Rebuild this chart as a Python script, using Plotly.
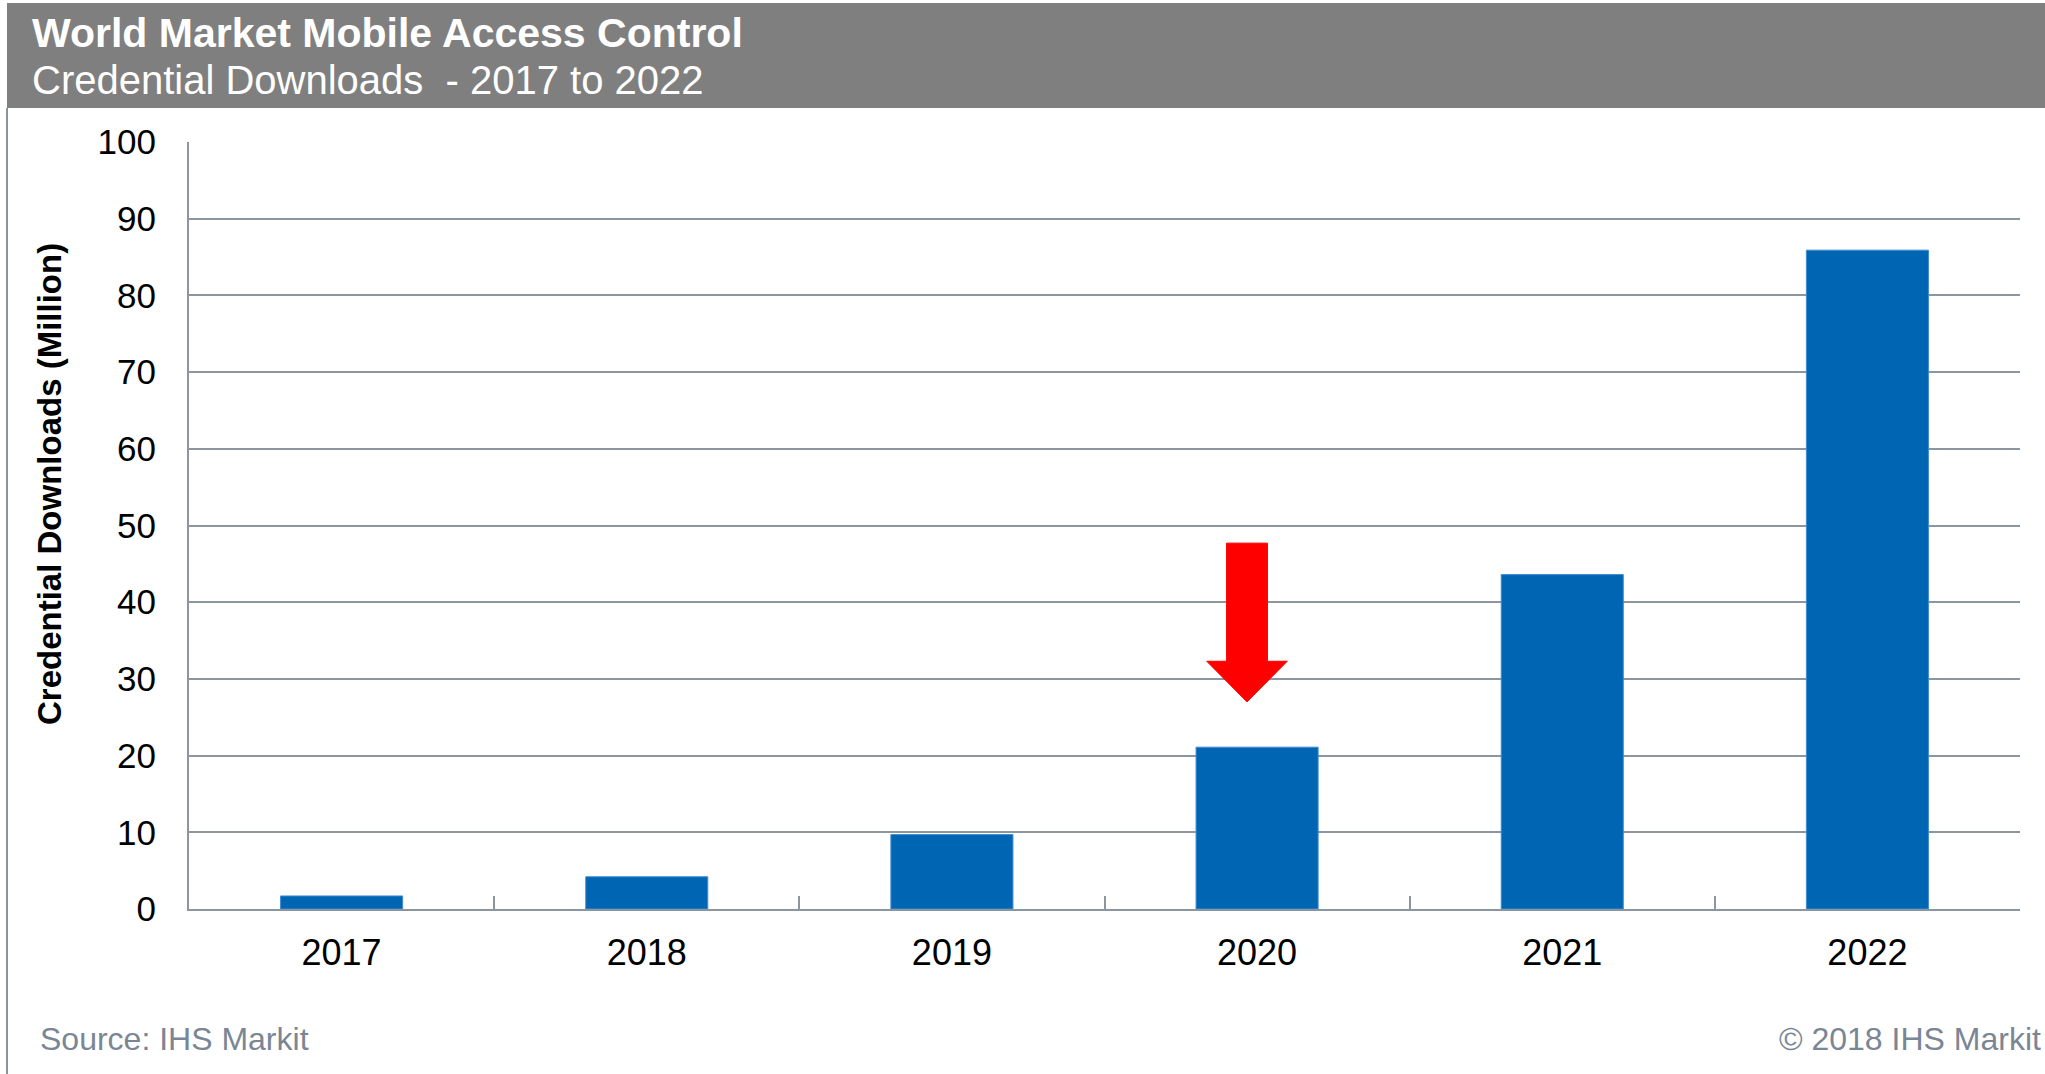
import plotly.graph_objects as go

# ---- data ----
years = ["2017", "2018", "2019", "2020", "2021", "2022"]
downloads = [1.7, 4.2, 9.7, 21.1, 43.6, 85.9]

title_main = "World Market Mobile Access Control"
title_sub = "Credential Downloads  - 2017 to 2022"
y_title = "Credential Downloads (Million)"
source_text = "Source: IHS Markit"
copyright_text = "© 2018 IHS Markit"

# arrow annotation (pointing at 2020)
arrow_year = "2020"
arrow_top, arrow_head_base, arrow_tip = 47.7, 32.3, 27.0

W, H = 2045, 1074
L, R, T, B = 189, 2020, 142, 909  # plot area in pixels
FONT = "Arial, 'Liberation Sans', Helvetica, sans-serif"
GRID = "#8C96A0"
GRAY_BAND = "#7F7F7F"
BLUE = "#0066B3"


def px(xp):
    return (xp - L) / (R - L)


def py(yp):
    return (B - yp) / (B - T)


fig = go.Figure()
fig.add_trace(go.Bar(x=years, y=downloads, marker=dict(color=BLUE, line=dict(color="#3F8CD0", width=1)),
                     hoverinfo="x+y"))

# arrow polygon on overlay numeric axis
ci = years.index(arrow_year)
c = ci - 0.033
sw, hw = 0.067, 0.132
ax_x = [c - sw, c + sw, c + sw, c + hw, c, c - hw, c - sw, c - sw]
ax_y = [arrow_top, arrow_top, arrow_head_base, arrow_head_base, arrow_tip, arrow_head_base, arrow_head_base, arrow_top]
fig.add_trace(go.Scatter(x=ax_x, y=ax_y, xaxis="x2", yaxis="y", fill="toself", fillcolor="#FF0000",
                         mode="lines", line=dict(color="#FF0000", width=1), hoverinfo="skip"))

shapes = [
    dict(type="rect", xref="paper", yref="paper", x0=px(7), x1=px(2045), y0=py(108), y1=py(3),
         fillcolor=GRAY_BAND, line=dict(width=0), layer="below"),
    dict(type="line", xref="paper", yref="paper", x0=px(7), x1=px(7), y0=py(108), y1=py(1074),
         line=dict(color="#8A94A0", width=2)),
]

annotations = [
    dict(text="<b>" + title_main + "</b>", xref="paper", yref="paper", x=px(30), y=py(33),
         xanchor="left", yanchor="middle", showarrow=False, font=dict(family=FONT, size=41, color="white")),
    dict(text=title_sub, xref="paper", yref="paper", x=px(30), y=py(80),
         xanchor="left", yanchor="middle", showarrow=False, font=dict(family=FONT, size=40, color="white")),
    dict(text="<b>" + y_title + "</b>", xref="paper", yref="paper", x=px(49), y=py(484),
         xanchor="center", yanchor="middle", textangle=-90, showarrow=False,
         font=dict(family=FONT, size=33, color="black")),
    dict(text=source_text, xref="paper", yref="paper", x=px(38), y=py(1039),
         xanchor="left", yanchor="middle", showarrow=False, font=dict(family=FONT, size=32, color="#7A8694")),
    dict(text=copyright_text, xref="paper", yref="paper", x=px(2043), y=py(1039),
         xanchor="right", yanchor="middle", showarrow=False, font=dict(family=FONT, size=32, color="#7A8694")),
]

fig.update_layout(
    width=W, height=H,
    margin=dict(l=L, r=W - R, t=T, b=H - B, pad=0),
    paper_bgcolor="white", plot_bgcolor="white",
    showlegend=False,
    bargap=0.6,
    shapes=shapes,
    annotations=annotations,
    font=dict(family=FONT, color="black"),
    xaxis=dict(type="category", tickson="boundaries", ticks="inside", ticklen=13, tickwidth=2,
               tickcolor=GRID, showgrid=False, showline=True, linecolor=GRID, linewidth=2,
               tickfont=dict(family=FONT, size=36, color="black"), ticklabelstandoff=11,
               range=[-0.5, 5.5], zeroline=False),
    xaxis2=dict(overlaying="x", range=[-0.5, 5.5], visible=False),
    yaxis=dict(range=[0, 100], dtick=10, showgrid=True, gridcolor=GRID, gridwidth=2,
               showline=True, linecolor=GRID, linewidth=2, zeroline=False, ticks="",
               tickfont=dict(family=FONT, size=35, color="black"), ticklabelstandoff=24),
)

fig.write_html("out.html", config={"displayModeBar": False},
               post_script="document.body.style.margin='0';document.body.style.overflow='hidden';")
